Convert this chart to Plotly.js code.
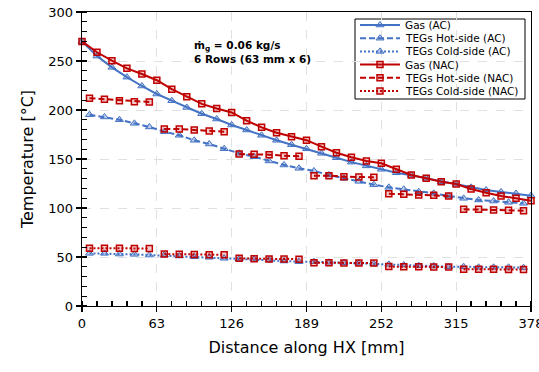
<!DOCTYPE html>
<html><head><meta charset="utf-8">
<script src="https://cdn.plot.ly/plotly-3.0.1.min.js"></script>
<style>body{margin:0;padding:0;background:#fff}#c{width:539px;height:372px}</style>
</head><body><div id="c"></div>
<script>
// Distance along HX [mm]
const gasX = [0,12.6,25.2,37.8,50.4,63,75.6,88.2,100.8,113.4,126,138.6,151.2,163.8,176.4,189,201.6,214.2,226.8,239.4,252,264.6,277.2,289.8,302.4,315,327.6,340.2,352.8,365.4,378];
const tegX = [6.3,18.9,31.5,44.1,56.7,69.3,81.9,94.5,107.1,119.7,132.3,144.9,157.5,170.1,182.7,195.3,207.9,220.5,233.1,245.7,258.3,270.9,283.5,296.1,308.7,321.3,333.9,346.5,359.1,371.7];
const tegXnac = [6.3,18.9,31.5,44.1,56.7,63,69.3,81.9,94.5,107.1,119.7,126,132.3,144.9,157.5,170.1,182.7,189,195.3,207.9,220.5,233.1,245.7,252,258.3,270.9,283.5,296.1,308.7,315,321.3,333.9,346.5,359.1,371.7];

// Temperatures [°C]
const gasAC = [270,255,243.5,233.5,224.5,216.3,209.5,202.6,196.2,190.8,184.7,179.6,174.2,169.1,164.6,160.4,155.8,151.3,146.8,143,139.5,136,133.3,130.3,126.8,124.2,121.1,118.4,116.4,114.8,112.6];
const hotAC = [195.2,192.9,190.1,186.4,182.7,177.9,174.2,169.1,165.3,160.5,155.8,152.3,148,143.9,140.5,137.8,133.7,130.3,127.2,123.8,121.1,119.1,116.6,115,112.2,109.9,108.2,107.1,105.8,104.8];
const coldAC = [53.7,53.7,53,52.7,52,52,51,50.3,49.7,48.7,48,47.6,46.9,45.9,45.2,45.2,44.6,44.2,43.6,42.9,42.5,41.8,41.1,40.8,40.1,40.1,39.5,39.5,39.5,39.1];
const gasNAC = [270,258.9,250.3,242.5,236.7,230.4,221.2,213.6,206.3,201.5,197.5,189.1,182.3,176.8,172.8,169.2,162.6,156.4,151.7,148,145.6,139.5,133.7,130.3,126.8,124.4,119.4,115.6,112.2,109.9,107.4];
const hotNAC = [212,211,209.5,208.5,208.2,null,180.6,180.6,179.6,178.6,177.9,null,155.1,154.8,154.4,153.4,152.8,null,133,133,132,131.6,131.3,null,114.6,114,113.3,112.9,112.2,null,98.7,98.7,98,97.7,97.2];
const coldNAC = [59,59,59,58.8,58.7,null,53,52.8,52.6,52.4,52.3,null,48.6,48.2,48,47.9,47.8,null,44.2,44.1,44,43.9,43.8,null,40.2,40.1,40,39.9,39.8,null,37.6,37.5,37.4,37.3,37.2];

const seriesNames = ['Gas (AC)','TEGs Hot-side (AC)','TEGs Cold-side (AC)','Gas (NAC)','TEGs Hot-side (NAC)','TEGs Cold-side (NAC)'];
const xTicks = [0,63,126,189,252,315,378];

const blue = '#4472C4', red = '#C00000';
const triM = {symbol:'triangle-up', size:7, color:'rgba(68,114,196,0.35)', line:{color:blue, width:1}};
const sqM = {symbol:'square', size:6, color:'rgba(192,0,0,0.2)', line:{color:red, width:1.5}};
const DASH = '6px,3px', DOT = '2px,2px';

const styles = [
  {line:{color:blue,width:2}, marker:triM},
  {line:{color:blue,width:2,dash:DASH}, marker:triM},
  {line:{color:blue,width:2,dash:DOT}, marker:triM},
  {line:{color:red,width:2}, marker:sqM},
  {line:{color:red,width:2,dash:DASH}, marker:sqM},
  {line:{color:red,width:2,dash:DOT}, marker:sqM}
];
const xs = [gasX, tegX, tegX, gasX, tegXnac, tegXnac];
const ys = [gasAC, hotAC, coldAC, gasNAC, hotNAC, coldNAC];

const traces = ys.map((y,i)=>Object.assign({x:xs[i], y:y, name:seriesNames[i], mode:'lines+markers',
  connectgaps:false, showlegend:false, cliponaxis:false}, styles[i]));

// Plot-area pixel frame (margins) and legend box geometry in pixels
const M = {l:82, r:8, t:12, b:66}, W = 539, H = 372;
const PL = M.l, PR = W - M.r, PT = M.t, PB = H - M.b;
const px2x = p => (p - PL) / (PR - PL);
const px2y = p => (PB - p) / (PB - PT);
const LG = {left:355, right:525, top:19, bottom:99, row0:25, rowStep:13.2, symX0:360, symX1:400, textX:403};

// Legend symbols drawn on a pixel-unit overlay axis (x2/y2)
seriesNames.forEach((n,i)=>{
  const yy = LG.row0 + LG.rowStep*i;
  traces.push(Object.assign({x:[LG.symX0,(LG.symX0+LG.symX1)/2,LG.symX1], y:[yy,yy,yy], xaxis:'x2', yaxis:'y2',
    mode:'lines+markers', showlegend:false, hoverinfo:'skip'}, styles[i],
    {marker:Object.assign({}, styles[i].marker, {opacity:[0,1,0]})}));
});

const fontFam = 'DejaVu Sans, Verdana, sans-serif';
const annotations = [{xref:'x', yref:'y', x:93, y:274, xanchor:'left', yanchor:'top', align:'left', showarrow:false,
    text:'<b>ṁ<sub>g</sub> = 0.06 kg/s<br>6 Rows (63 mm x 6)</b>', font:{size:10.5, family:fontFam}}];
seriesNames.forEach((n,i)=>{
  annotations.push({xref:'paper', yref:'paper', x:px2x(LG.textX), y:px2y(LG.row0 + LG.rowStep*i), xanchor:'left', yanchor:'middle',
    showarrow:false, text:n, font:{size:10.5, family:fontFam, color:'#000'}});
});

const layout = {
  width:W, height:H,
  margin:M,
  paper_bgcolor:'#fff', plot_bgcolor:'#fff',
  font:{family:fontFam, color:'#000', size:13},
  showlegend:false,
  xaxis:{range:[0,378], tickvals:xTicks, ticktext:xTicks.map(String), ticks:'outside', ticklen:5, tickwidth:1.3, tickcolor:'#000',
         ticklabeloverflow:'allow',
         showline:true, linecolor:'#000', linewidth:1.3, mirror:true,
         showgrid:true, gridcolor:'#e0e0e0', griddash:'dash', gridwidth:1, zeroline:false,
         minor:{dtick:12.6, tick0:0, ticks:'inside', ticklen:5, tickcolor:'#000', showgrid:false},
         title:{text:'Distance along HX [mm]', font:{size:16}, standoff:12}},
  yaxis:{range:[0,300], dtick:50, ticks:'outside', ticklen:5, tickwidth:1.3, tickcolor:'#000',
         showline:true, linecolor:'#000', linewidth:1.3, mirror:true,
         showgrid:true, gridcolor:'#e0e0e0', griddash:'dash', gridwidth:1, zeroline:false,
         minor:{dtick:10, ticks:'inside', ticklen:5, tickcolor:'#000', showgrid:false},
         title:{text:'Temperature [°C]', font:{size:16}, standoff:10}},
  // pixel-unit overlay used for the legend; its ticks give the inner half of the crossing major ticks
  xaxis2:{overlaying:'x', anchor:'y2', side:'bottom', range:[PL,PR], fixedrange:true,
          tickvals:xTicks.map(v=>PL + v/378*(PR-PL)), ticks:'inside', ticklen:5, tickwidth:1.3, tickcolor:'#000',
          showticklabels:false, showgrid:false, showline:false, zeroline:false},
  yaxis2:{overlaying:'y', anchor:'x2', side:'left', range:[PB,PT], fixedrange:true,
          tickvals:[0,50,100,150,200,250,300].map(v=>PB - v/300*(PB-PT)), ticks:'inside', ticklen:5, tickwidth:1.3, tickcolor:'#000',
          showticklabels:false, showgrid:false, showline:false, zeroline:false},
  shapes:[{type:'rect', xref:'paper', yref:'paper', x0:px2x(LG.left), x1:px2x(LG.right), y0:px2y(LG.bottom), y1:px2y(LG.top),
           fillcolor:'#fff', line:{color:'#000', width:1}, layer:'below'}],
  annotations:annotations
};
Plotly.newPlot('c', traces, layout, {displayModeBar:false, staticPlot:true});
</script></body></html>
